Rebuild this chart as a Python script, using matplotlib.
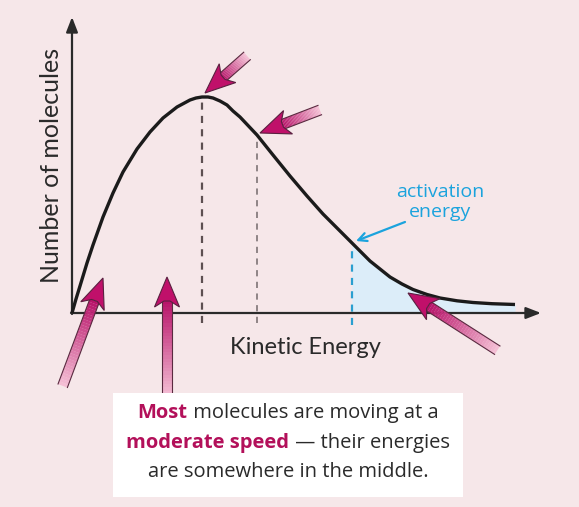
import numpy as np
import matplotlib
matplotlib.use("Agg")
import matplotlib.pyplot as plt
from matplotlib.patches import Polygon, Rectangle
from matplotlib.colors import to_rgb

# curve (energy, number of molecules), arbitrary units
energy = [0, 4, 8, 15, 21, 31, 41, 51, 65, 78, 91, 105, 118, 124, 130, 136, 141,
          148, 155, 161, 168, 185, 201, 218, 235, 251, 268, 280, 298, 318,
          330, 341, 355, 368, 385, 401, 420, 443]
count = [0, 14, 27, 50, 68, 96, 120, 141, 164, 181, 195, 206, 213, 215, 216, 216, 215,
         212, 208, 202, 196, 178, 158, 137, 117, 99, 82, 70, 52, 36,
         29, 23.5, 18.5, 15, 12.2, 10.5, 9.3, 8.5]

peak_e = 130        # most probable energy
mean_e = 185        # second dashed marker
act_e = 280         # activation energy

bg = "#f6e7e9"
magenta = "#b3105a"

fig = plt.figure(figsize=(5.79, 5.07), dpi=100, facecolor=bg)
ax = fig.add_axes([0, 0, 1, 1])
ax.set_facecolor(bg)
ax.set_xlim(-72, 507)
ax.set_ylim(-194, 313)
ax.axis("off")

e = np.array(energy)
c = np.array(count)
c_act = np.interp(act_e, e, c)
c_mean = np.interp(mean_e, e, c)
c_peak = max(count)

# shaded area past the activation energy
m = e >= act_e
ax.fill_between(e[m], 0, c[m], color="#dcedf9", lw=0, zorder=1)

# axes with arrow heads
ax.annotate("", xy=(0, 296), xytext=(0, -1),
            arrowprops=dict(arrowstyle="-|>,head_length=0.9,head_width=0.35",
                            color="#2a2a2a", lw=1.6, shrinkA=0, shrinkB=0), zorder=3)
ax.annotate("", xy=(469, 0), xytext=(-1, 0),
            arrowprops=dict(arrowstyle="-|>,head_length=0.9,head_width=0.35",
                            color="#2a2a2a", lw=1.6, shrinkA=0, shrinkB=0), zorder=3)

# dashed markers
ax.plot([peak_e, peak_e], [-10, c_peak - 3], ls=(0, (3.2, 2.8)), color="#5d4f51", lw=1.6, zorder=2)
ax.plot([mean_e, mean_e], [-10, c_mean - 3], ls=(0, (3.2, 2.8)), color="#8f8486", lw=1.4, zorder=2)
ax.plot([act_e, act_e], [-12, c_act - 5], ls=(0, (3.2, 2.8)), color="#2a9fd0", lw=1.6, zorder=2)

# distribution curve
ax.plot(e, c, color="#1b1b1b", lw=2.4, solid_capstyle="butt", solid_joinstyle="round", zorder=4)

ax.text(-20, 148, "Number of molecules", rotation=90, ha="center", va="center",
        fontsize=18, family="Lato", color="#2a2a2a")
ax.text(233, -34, "Kinetic Energy", ha="center", va="center",
        fontsize=17, family="Lato", color="#2a2a2a")

ax.text(368, 111, "activation\nenergy", ha="center", va="center", linespacing=1.2,
        fontsize=14, family="Open Sans", color="#1ba3dd")
ax.annotate("", xy=(act_e + 4, c_act + 2), xytext=(333, 91),
            arrowprops=dict(arrowstyle="->,head_length=0.6,head_width=0.3",
                            color="#1ba3dd", lw=1.6, shrinkA=0, shrinkB=0), zorder=5)


def pink_arrow(tip, dx, dy, length):
    # gradient arrow: (dx, dy) is direction from tip toward tail
    tip = np.array(tip, float)
    d = np.array([dx, dy], float)
    d /= np.hypot(*d)
    n = np.array([-d[1], d[0]])
    hl, hw, sw = 24, 12.5, 5
    base = tip + d * hl
    tail = tip + d * length
    c1 = np.array(to_rgb("#f6c4d8"))
    c2 = np.array(to_rgb("#b8146a"))
    steps = 30
    for i in range(steps):
        a = base + (tail - base) * i / steps
        b = base + (tail - base) * (i + 1.05) / steps
        t = i / steps
        col = c2 * (1 - t) + c1 * t
        ax.add_patch(Polygon([a + n * sw, b + n * sw, b - n * sw, a - n * sw],
                             closed=True, fc=col, ec="none", zorder=6))
    ax.plot(*zip(base + n * sw, tail + n * sw), color="#5a2a40", lw=0.8, zorder=6)
    ax.plot(*zip(base - n * sw, tail - n * sw), color="#5a2a40", lw=0.8, zorder=6)
    head = [tip, tip + d * (hl + 6) + n * hw, base + n * sw * 0.6,
            base - n * sw * 0.6, tip + d * (hl + 6) - n * hw]
    ax.add_patch(Polygon(head, closed=True, fc="#c0106a", ec="#5a2040", lw=0.8, zorder=7))


pink_arrow((peak_e + 3, c_peak + 4), 42, 37, 56)
pink_arrow((mean_e + 3, c_mean + 2), 60, 23, 64)
pink_arrow((31, 35), -40, -107, 115)
pink_arrow((95, 36), 0, -1, 120)
pink_arrow((336, 20), 89, -57, 106)

# caption box
ax.add_patch(Rectangle((41, -184), 350, 104, fc="white", ec="none", zorder=8))

lines = [
    [("Most", True), (" molecules are moving at a", False)],
    [("moderate speed", True), (" \u2014 their energies", False)],
    [("are somewhere in the middle.", False)],
]
ys = [-100, -130, -159]
fig.canvas.draw()
r = fig.canvas.get_renderer()
for parts, y in zip(lines, ys):
    texts = []
    for s, bold in parts:
        t = ax.text(0, y, s, ha="left", va="center", fontsize=14.5, family="Open Sans",
                    fontweight="bold" if bold else "normal",
                    color=magenta if bold else "#2a2a2a", zorder=9)
        texts.append(t)
    widths = [t.get_window_extent(r).width for t in texts]
    x0 = 216 - sum(widths) / 2
    for t, w in zip(texts, widths):
        t.set_x(x0)
        x0 += w

fig.savefig("out.png", dpi=100, facecolor=bg)
